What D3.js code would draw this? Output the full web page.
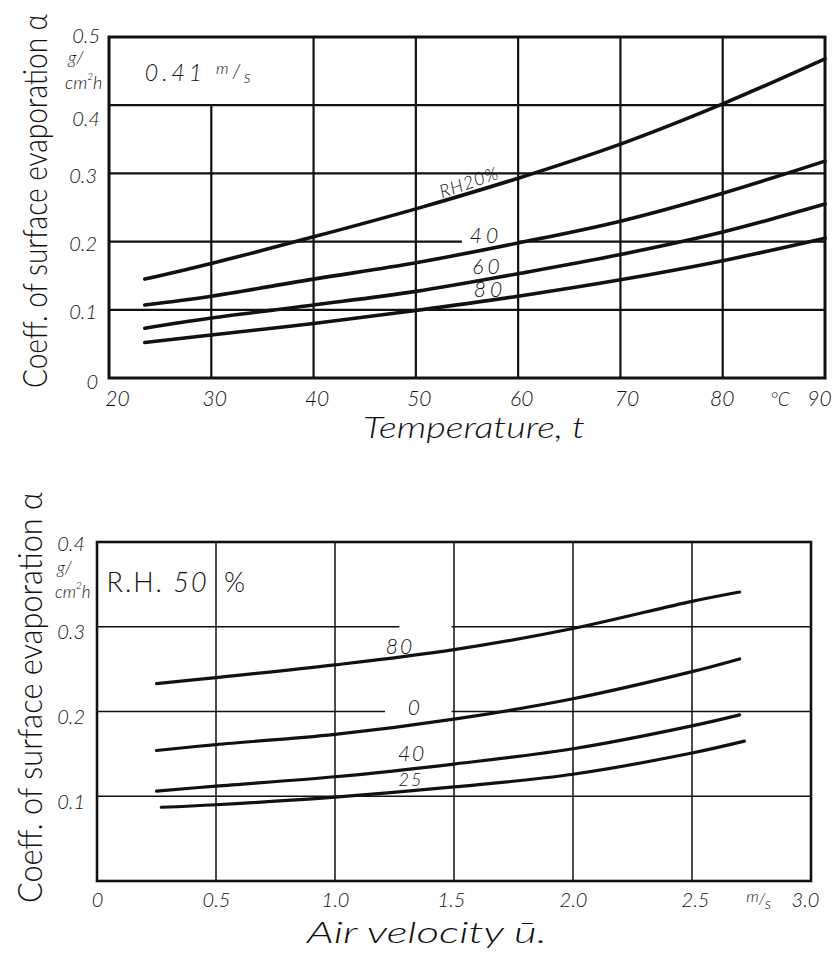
<!DOCTYPE html>
<html><head><meta charset="utf-8">
<script src="https://cdn.jsdelivr.net/npm/d3@7"></script>
<style>
body{margin:0;background:#fff}
text{font-family:Lato,"DejaVu Sans",sans-serif;font-style:italic;font-weight:300;fill:#111}
</style>
</head><body>
<svg id="c" width="837" height="953"></svg>
<script>
// ---------- data ----------
const tempTicks = [20, 30, 40, 50, 60, 70, 80, 90];
const topYTicks = [0, 0.1, 0.2, 0.3, 0.4, 0.5];
const tempX = [23.5, 30, 40, 50, 60, 70, 80, 90];
const rh20 = [0.145, 0.168, 0.207, 0.248, 0.293, 0.343, 0.402, 0.468];
const rh40 = [0.107, 0.120, 0.145, 0.169, 0.198, 0.230, 0.271, 0.318];
const rh60 = [0.073, 0.088, 0.107, 0.127, 0.153, 0.181, 0.214, 0.255];
const rh80 = [0.052, 0.063, 0.080, 0.099, 0.120, 0.144, 0.172, 0.205];
const topSeriesNames = ["RH20%", "40", "60", "80"];

const velTicks = [0, 0.5, 1.0, 1.5, 2.0, 2.5, 3.0];
const botYTicks = [0.1, 0.2, 0.3, 0.4];
const velX = [0.25, 0.5, 1.0, 1.5, 2.0, 2.5, 2.7];
const velX25 = [0.27, 0.5, 1.0, 1.5, 2.0, 2.5, 2.72];
const v80 = [0.233, 0.240, 0.255, 0.273, 0.298, 0.330, 0.341];
const v0  = [0.154, 0.161, 0.173, 0.191, 0.215, 0.247, 0.262];
const v40 = [0.106, 0.112, 0.123, 0.138, 0.156, 0.183, 0.196];
const v25 = [0.087, 0.090, 0.099, 0.111, 0.126, 0.151, 0.165];
const botSeriesNames = ["80", "0", "40", "25"];

// ---------- drawing ----------
const svg = d3.select("#c");
svg.append("rect").attr("width", 837).attr("height", 953).attr("fill", "#fff");
const ink = "#111";

function hline(g, x1, x2, y, w) {
  g.append("line").attr("x1", x1).attr("x2", x2).attr("y1", y).attr("y2", y)
    .attr("stroke", ink).attr("stroke-width", w);
}
function vline(g, x, y1, y2, w) {
  g.append("line").attr("x1", x).attr("x2", x).attr("y1", y1).attr("y2", y2)
    .attr("stroke", ink).attr("stroke-width", w);
}
function fitText(x, y, rot, len, size, str, italic) {
  const g = svg.append("g");
  const t = g.append("text").style("font-size", size + "px")
    .style("font-style", italic ? "italic" : "normal").text(str);
  const natural = t.node().getComputedTextLength();
  g.attr("transform", `translate(${x},${y}) rotate(${rot}) scale(${len / natural},1)`);
  return t;
}

// ===== TOP CHART =====
const xT = d3.scaleLinear().domain([20, 90]).range([109, 825]);
const yT = d3.scaleLinear().domain([0, 0.5]).range([378, 37]);
const gT = svg.append("g");

tempTicks.slice(1, -1).forEach(t => vline(gT, xT(t), yT(0), t === 30 ? yT(0.4) : yT(0.5), 2.2));
[0.1, 0.3, 0.4].forEach(v => hline(gT, xT(20), xT(90), yT(v), 2.2));
hline(gT, xT(20), xT(54.5), yT(0.2), 2.2);
hline(gT, xT(60), xT(90), yT(0.2), 2.2);
gT.append("rect").attr("x", xT(20)).attr("y", yT(0.5))
  .attr("width", xT(90) - xT(20)).attr("height", yT(0) - yT(0.5))
  .attr("fill", "none").attr("stroke", ink).attr("stroke-width", 3);

const lineT = d3.line().x(d => xT(d[0])).y(d => yT(d[1])).curve(d3.curveCatmullRom.alpha(0.5));
[rh20, rh40, rh60, rh80].forEach(s => {
  gT.append("path").datum(tempX.map((t, i) => [t, s[i]])).attr("d", lineT)
    .attr("fill", "none").attr("stroke", ink).attr("stroke-width", 3.6)
    .attr("stroke-linecap", "round");
});

const axLT = gT.append("g").attr("transform", `translate(${xT(20)},0)`)
  .call(d3.axisLeft(yT).tickValues(topYTicks).tickSize(0).tickPadding(9)
    .tickFormat(d => d === 0 ? "0" : d.toFixed(1)));
axLT.select(".domain").remove();
axLT.selectAll("text").style("font-size", "20px")
  .attr("dy", d => d === 0.4 ? "1.0em" : (d === 0 ? "0.5em" : (d === 0.5 ? "0.25em" : "0.45em")))
  .attr("dx", d => d === 0 ? "-2" : (d === 0.3 || d === 0.2 || d === 0.1 ? "-3" : "0"));

const axBT = gT.append("g").attr("transform", `translate(0,${yT(0)})`)
  .call(d3.axisBottom(xT).tickValues(tempTicks).tickSize(0).tickPadding(13)
    .tickFormat(d3.format("d")));
axBT.select(".domain").remove();
axBT.selectAll("text").style("font-size", "21px")
  .attr("dx", d => d === 20 ? 8 : (d === 90 ? -6 : (d === 70 ? 6 : (d === 80 ? -1 : 3))));

gT.append("text").attr("x", xT(85.6)).attr("y", yT(0) + 28).attr("text-anchor", "middle")
  .style("font-size", "19px").text("°C");

gT.append("text").attr("x", 68).attr("y", 64).style("font-size", "18px").text("g/");
gT.append("text").attr("x", 65).attr("y", 89).style("font-size", "18px")
  .html('cm<tspan dy="-9" font-size="10">2</tspan><tspan dy="9">h</tspan>');

gT.append("text").attr("x", xT(23.5)).attr("y", yT(0.436)).style("font-size", "23px")
  .attr("letter-spacing", "4")
  .html('0.41 <tspan dy="-7" font-size="16">m</tspan><tspan dy="4" font-size="19">/</tspan><tspan dy="5" font-size="17">s</tspan>');

gT.append("text").attr("transform", `translate(${xT(55.2)},${yT(0.287)}) rotate(-19)`)
  .attr("text-anchor", "middle").attr("dy", "0.35em").style("font-size", "18px")
  .attr("letter-spacing", "1").text(topSeriesNames[0]);
[[56.85, 0.208], [57.05, 0.164], [57.25, 0.130]].forEach((p, i) => {
  gT.append("text").attr("x", xT(p[0])).attr("y", yT(p[1])).attr("dy", "0.35em")
    .attr("text-anchor", "middle").style("font-size", "21px").attr("letter-spacing", "4")
    .text(topSeriesNames[i + 1]);
});

fitText(47, 388, -90, 374, 34, "Coeff. of surface evaporation α", false);
fitText(363, 438, 0, 222, 29, "Temperature, t", true);

// ===== BOTTOM CHART =====
const xB = d3.scaleLinear().domain([0, 3]).range([97, 811]);
const yB = d3.scaleLinear().domain([0, 0.4]).range([881, 542]);
const gB = svg.append("g");

velTicks.slice(1, -1).forEach(u => vline(gB, xB(u), yB(0), yB(0.4), 1.5));
hline(gB, xB(0), xB(3), yB(0.1), 1.5);
hline(gB, xB(0), xB(1.21), yB(0.2), 1.5);
hline(gB, xB(1.49), xB(3), yB(0.2), 1.5);
hline(gB, xB(0), xB(1.27), yB(0.3), 1.5);
hline(gB, xB(1.49), xB(3), yB(0.3), 1.5);
gB.append("rect").attr("x", xB(0)).attr("y", yB(0.4))
  .attr("width", xB(3) - xB(0)).attr("height", yB(0) - yB(0.4))
  .attr("fill", "none").attr("stroke", ink).attr("stroke-width", 2.6);

const lineB = d3.line().x(d => xB(d[0])).y(d => yB(d[1])).curve(d3.curveCatmullRom.alpha(0.5));
[[velX, v80], [velX, v0], [velX, v40], [velX25, v25]].forEach(([xs, s]) => {
  gB.append("path").datum(xs.map((u, i) => [u, s[i]])).attr("d", lineB)
    .attr("fill", "none").attr("stroke", ink).attr("stroke-width", 3.2)
    .attr("stroke-linecap", "round");
});

const axLB = gB.append("g").attr("transform", `translate(${xB(0)},0)`)
  .call(d3.axisLeft(yB).tickValues(botYTicks).tickSize(0).tickPadding(12)
    .tickFormat(d => d.toFixed(1)));
axLB.select(".domain").remove();
axLB.selectAll("text").style("font-size", "20px")
  .attr("dy", d => d === 0.4 ? "0.4em" : "0.6em");

const axBB = gB.append("g").attr("transform", `translate(0,${yB(0)})`)
  .call(d3.axisBottom(xB).tickValues(velTicks).tickSize(0).tickPadding(12)
    .tickFormat(d => d === 0 ? "0" : d.toFixed(1)));
axBB.select(".domain").remove();
axBB.selectAll("text").style("font-size", "20px")
  .attr("dx", d => d === 3 ? -6 : (d === 2.5 ? 3 : (d === 1.5 ? -3 : 0)));

gB.append("text").attr("x", xB(2.78)).attr("y", yB(0) + 25).attr("text-anchor", "middle")
  .style("font-size", "16px")
  .html('<tspan dy="-4">m</tspan><tspan dy="2">/</tspan><tspan dy="5">s</tspan>');

gB.append("text").attr("x", 57).attr("y", 574).style("font-size", "17px").text("g/");
gB.append("text").attr("x", 55).attr("y", 598).style("font-size", "17px")
  .html('cm<tspan dy="-9" font-size="10">2</tspan><tspan dy="9">h</tspan>');

gB.append("text").attr("x", xB(0.04)).attr("y", yB(0.341)).style("font-size", "27px")
  .style("font-style", "normal").attr("letter-spacing", "2")
  .html('R.H. <tspan font-style="italic">50</tspan>  <tspan dx="6">%</tspan>');

[[1.273, 0.277], [1.336, 0.204], [1.324, 0.150], [1.319, 0.120]].forEach((p, i) => {
  gB.append("text").attr("x", xB(p[0])).attr("y", yB(p[1])).attr("dy", "0.35em")
    .attr("text-anchor", "middle").style("font-size", i === 3 ? "18px" : "21px")
    .attr("letter-spacing", "2").text(botSeriesNames[i]);
});

fitText(42, 903, -90, 411, 34, "Coeff. of surface evaporation α", false);
fitText(307, 943, 0, 240, 29, "Air  velocity  ū.", true);
</script>
</body></html>
